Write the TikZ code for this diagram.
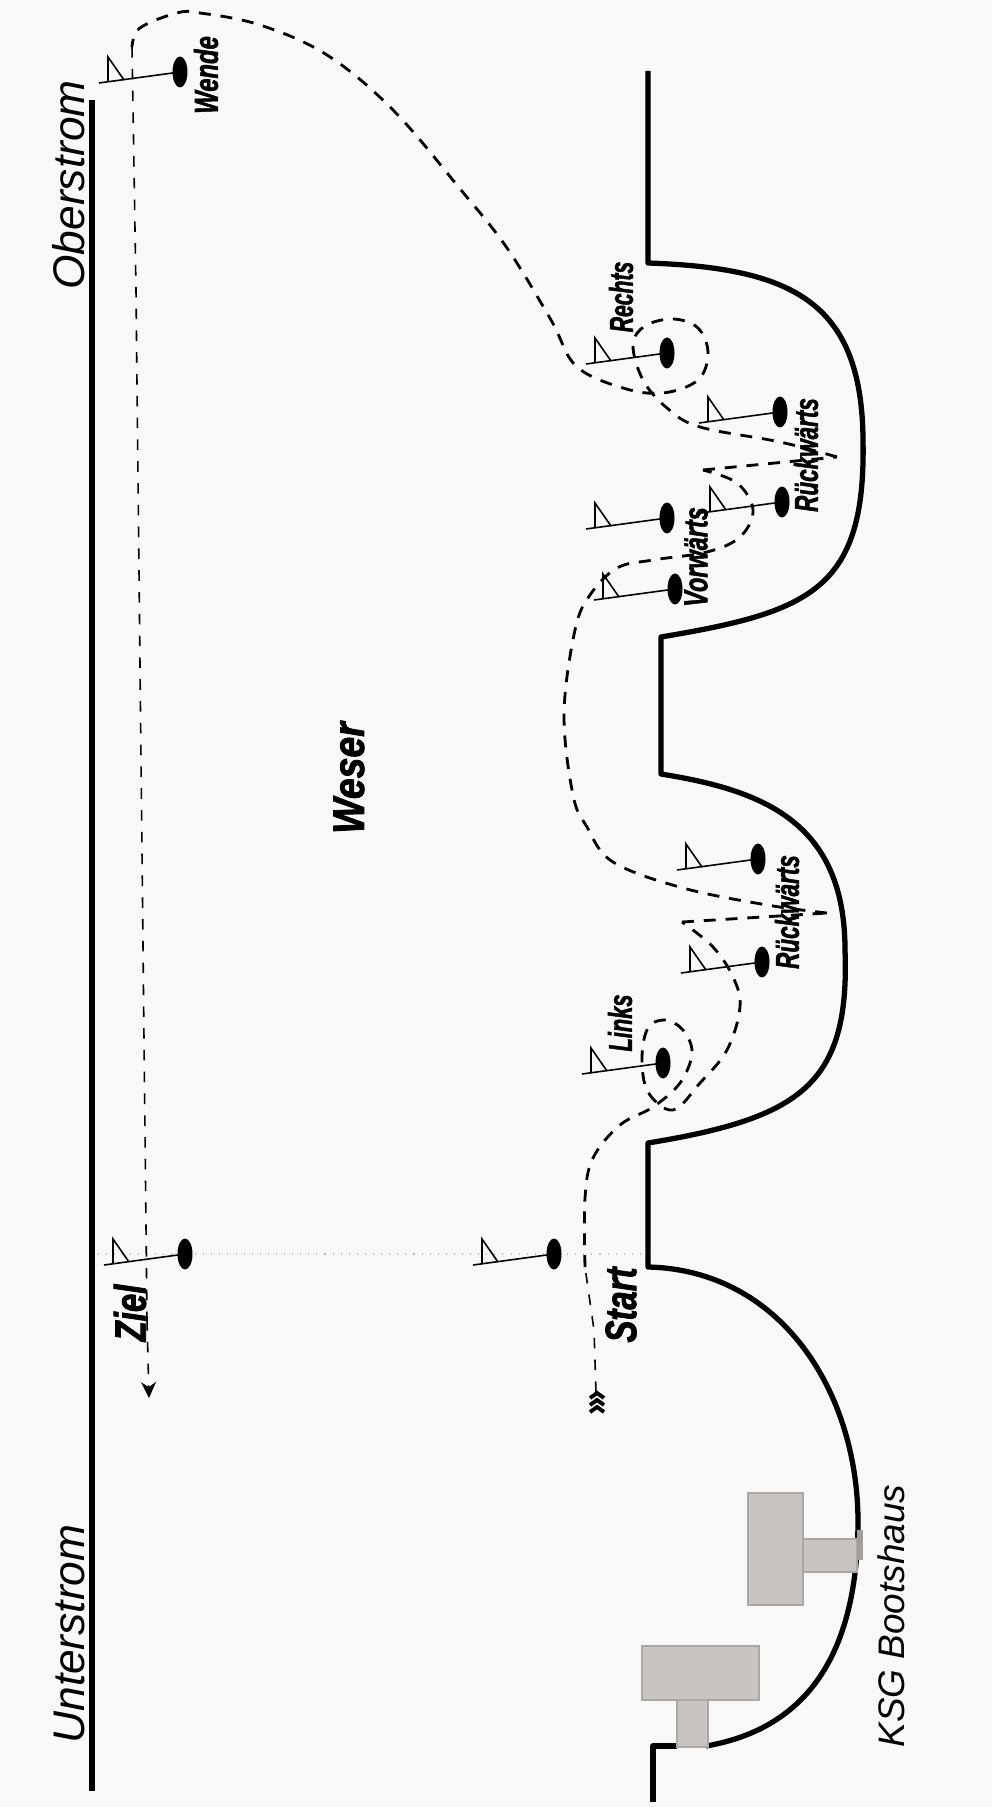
\documentclass[tikz,border=0pt]{standalone}
\usepackage{graphicx}
\usepackage{fontspec}
\setmainfont{Liberation Sans}
\newfontfamily\heavyfont[BoldItalicFeatures={FakeBold=2}]{Liberation Sans}
\usetikzlibrary{arrows.meta}
\usetikzlibrary{shapes.geometric}
\definecolor{paper}{RGB}{248,248,248}
\definecolor{house}{RGB}{200,196,196}
\newcommand{\squeezed}[2]{\scalebox{#1}[1]{#2}}

\begin{document}
\begin{tikzpicture}[x=0.01cm,y=-0.01cm]
    \tikzstyle{caption}=[rotate=90, inner sep=0pt, font=\fontsize{12.6pt}{14pt}\selectfont\itshape]
    \tikzstyle{mark label}=[rotate=90, inner sep=0pt, font=\fontsize{9.4pt}{11pt}\selectfont\heavyfont\bfseries\itshape]
    \tikzstyle{big label}=[rotate=90, inner sep=0pt, font=\fontsize{12.5pt}{14pt}\selectfont\heavyfont\bfseries\itshape]
    \tikzstyle{bank}=[line width=1.5pt, line join=round]
    \tikzstyle{buoy}=[shape=ellipse, fill=black, inner sep=0pt, minimum width=0.15cm, minimum height=0.31cm]
    \tikzstyle{flag}=[line width=0.45pt, line join=miter]
    \tikzstyle{course}=[line width=0.8pt, dash pattern=on 3.4pt off 2.8pt]
    \tikzstyle{home run}=[line width=0.45pt, dash pattern=on 3pt off 3.2pt]
    \tikzstyle{building}=[fill=house, draw=house!85!black, line width=0.3pt]

    \fill [paper] (0,0) rectangle (992,1807);
    \useasboundingbox (0,0) rectangle (992,1807);

    % shores
    \draw [style=bank] (92,100) -- (92,1791);
    \draw [style=bank] (648,71) -- (648,263) .. controls (790,268) and (862,300) .. (863,440) .. controls (866,590) and (810,612) .. (661,637) -- (661,774) .. controls (760,790) and (845,820) .. (845,950) .. controls (850,1085) and (800,1118) .. (648,1143) -- (648,1267) .. controls (780,1270) and (857,1390) .. (858,1520) .. controls (858,1650) and (810,1728) .. (706,1746);
    \draw [style=bank] (677,1746) -- (653,1746) -- (653,1802);

    % boat house
    \draw [style=building] (748,1493) rectangle (803,1605);
    \draw [style=building] (803,1539) rectangle (857,1572);
    \fill [house!80!black] (857,1530) rectangle (863,1560);
    \draw [style=building] (642,1646) rectangle (759,1700);
    \draw [style=building] (677,1700) rectangle (708,1747);

    % start and finish line
    \draw [gray!55, line width=0.3pt, dotted] (98,1254) -- (648,1254);

    % buoys
    \foreach \name/\x/\y in {wende/180/72, rechts/667/353, back a/780/412, back b/782/502, vor a/667/518, vor b/675/589,
                             back c/758/859, back d/762/962, links/663/1063, ziel/185/1254, start/554/1254} {
        \node [style=buoy] (\name) at (\x,\y) {};
        \draw [style=flag] (\name.center) -- ++(-81,11);
        \draw [style=flag] (\name.center) ++(-72,10) -- ++(0,-25) -- ++(16,23);
    }

    % course
    \draw [style=course] plot [smooth, tension=0.6] coordinates {(585,1267) (585,1198) (593,1158) (620,1125) (653,1107) (680,1083) (692,1053) (683,1030) (665,1020) (648,1028) (642,1058) (648,1092) (673,1110) (700,1083) (727,1050) (740,1007) (733,977) (713,947) (682,922)};
    \draw [style=home run] (596,1392) -- (594,1330) -- (585,1267);
    \draw [style=course] (682,922) -- (827,913);
    \draw [style=course] plot [smooth, tension=0.6] coordinates {(827,913) (767,905) (683,888) (613,862) (587,827) (573,795) (564,714) (575,630) (590,595) (617,568) (653,560) (707,552) (740,537) (753,510) (737,483) (703,470)};
    \draw [style=course] (703,470) -- (837,457);
    \draw [style=course] plot [smooth, tension=0.6] coordinates {(837,457) (780,442) (700,427) (667,408) (643,380) (633,345) (645,326) (673,319) (698,328) (708,353) (698,380) (663,393) (623,388) (576,366) (551,320) (507,248) (461,190) (393,110) (327,55) (260,25) (200,13) (177,13) (140,28) (132,47)};
    \draw [style=home run] (132,47) -- (136,290) -- (147,1320);
    \draw [style=home run, -{Stealth[length=0.16cm, width=0.15cm]}] (147,1320) -- (149,1398);

    % chevrons at the start
    \foreach \y in {1398,1405,1412} {
        \draw [line width=1.1pt] (590,\y) -- (597,\y-5) -- (604,\y);
    }

    % labels
    \node [style=caption] (oberstrom) at (69,185) {Oberstrom};
    \node [style=caption] (unterstrom) at (69,1634) {Unterstrom};
    \node [style=caption, font=\fontsize{10.5pt}{12pt}\selectfont\itshape] (bootshaus) at (891,1616) {KSG Bootshaus};
    \node [style=big label] (weser) at (349,778) {\squeezed{0.85}{Weser}};
    \node [style=big label] (zielname) at (130,1313) {\squeezed{0.75}{Ziel}};
    \node [style=big label] (startname) at (621,1305) {\squeezed{0.75}{Start}};
    \node [style=mark label] (wendename) at (206,75) {\squeezed{0.72}{Wende}};
    \node [style=mark label] (rechtsname) at (621,297) {\squeezed{0.64}{Rechts}};
    \node [style=mark label] (backname a) at (806,455) {\squeezed{0.68}{Rückwärts}};
    \node [style=mark label] (vorname) at (696,557) {\squeezed{0.71}{Vorwärts}};
    \node [style=mark label] (backname b) at (787,912) {\squeezed{0.68}{Rückwärts}};
    \node [style=mark label] (linksname) at (620,1023) {\squeezed{0.66}{Links}};
\end{tikzpicture}
\end{document}
